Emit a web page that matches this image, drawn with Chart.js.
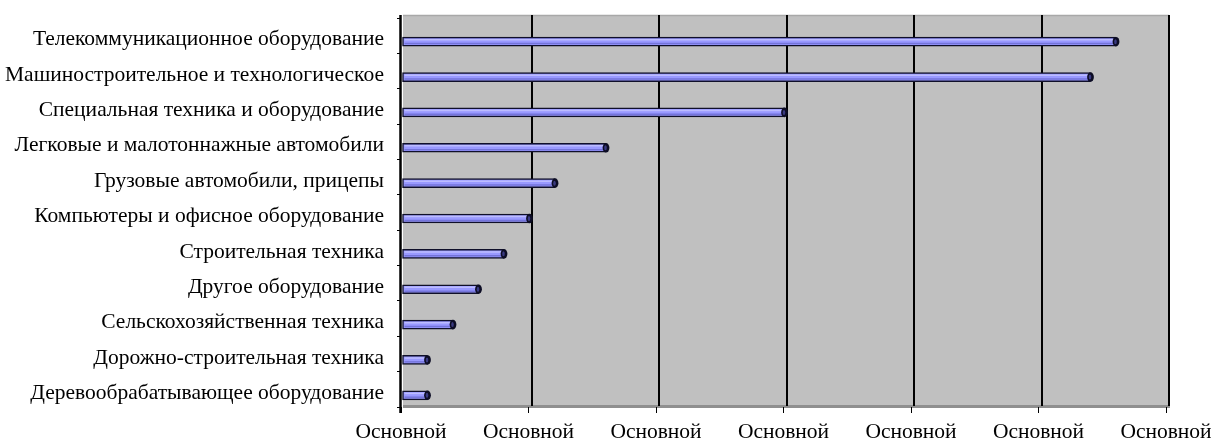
<!DOCTYPE html>
<html>
<head>
<meta charset="utf-8">
<script src="https://cdn.jsdelivr.net/npm/chart.js@4/dist/chart.umd.min.js"></script>
<style>
  html, body { margin: 0; padding: 0; background: #ffffff; }
  canvas { display: block; }
</style>
</head>
<body>
<canvas id="chart" width="1211" height="442"></canvas>
<script>
// Categories, top to bottom
const categories = [
  'Телекоммуникационное оборудование',
  'Машиностроительное и технологическое',
  'Специальная техника и оборудование',
  'Легковые и малотоннажные автомобили',
  'Грузовые автомобили, прицепы',
  'Компьютеры и офисное оборудование',
  'Строительная техника',
  'Другое оборудование',
  'Сельскохозяйственная техника',
  'Дорожно-строительная техника',
  'Деревообрабатывающее оборудование'
];

// Bar values
const values = [28, 27, 15, 8, 6, 5, 4, 3, 2, 1, 1];

// Value axis: range, step and the label shown under each tick
const axisMin = 0;
const axisMax = 30;
const axisStep = 5;
const tickLabel = 'Основной';

const FONT = { family: '"Liberation Serif", "Times New Roman", serif', size: 21.5 };

// Grey back wall with its vertical gridlines, rim and floor edge
const wallPlugin = {
  id: 'wall',
  beforeDraw(chart) {
    const ctx = chart.ctx;
    const area = chart.chartArea;
    const xs = chart.scales.x;
    const L = area.left + 2;
    const R = xs.getPixelForValue(axisMax) + 3;
    const T = area.top - 3;
    const B = area.bottom;
    ctx.save();
    ctx.fillStyle = '#c0c0c0';
    ctx.fillRect(L, T, R - L, B - T);
    // top rim
    ctx.strokeStyle = '#a8a8a8';
    ctx.lineWidth = 1.5;
    ctx.beginPath();
    ctx.moveTo(L, T + 0.5);
    ctx.lineTo(R, T + 0.5);
    ctx.stroke();
    // floor edge
    ctx.fillStyle = '#8f8f8f';
    ctx.fillRect(L, B - 2, R - L + 1, 3);
    // vertical gridlines
    ctx.strokeStyle = '#000000';
    ctx.lineWidth = 2;
    for (let v = axisMin + axisStep; v <= axisMax; v += axisStep) {
      const px = Math.round(xs.getPixelForValue(v) + 3);
      ctx.beginPath();
      ctx.moveTo(px, T);
      ctx.lineTo(px, B - 1);
      ctx.stroke();
    }
    // left wall edge / category axis line
    ctx.lineWidth = 2.5;
    ctx.beginPath();
    ctx.moveTo(area.left - 0.5, T);
    ctx.lineTo(area.left - 0.5, B + 6);
    ctx.stroke();
    ctx.restore();
  }
};

// Bars sit slightly forward of the wall: shift them, then add shading and end caps
const barsPlugin = {
  id: 'bars3d',
  beforeDatasetsDraw(chart) {
    chart.ctx.save();
    chart.ctx.translate(1, 6);
  },
  afterDatasetsDraw(chart) {
    const ctx = chart.ctx;
    chart.getDatasetMeta(0).data.forEach(bar => {
      const h = bar.height;
      const y = bar.y;
      const x0 = bar.base;
      const x1 = bar.x;
      ctx.lineWidth = 1.5;
      ctx.strokeStyle = 'rgba(255,255,255,0.35)';
      ctx.beginPath();
      ctx.moveTo(x0 + 2, y - h / 2 + 2.6);
      ctx.lineTo(x1 - 2, y - h / 2 + 2.6);
      ctx.stroke();
      ctx.strokeStyle = 'rgba(50,50,150,0.35)';
      ctx.beginPath();
      ctx.moveTo(x0 + 2, y + h / 2 - 2.6);
      ctx.lineTo(x1 - 2, y + h / 2 - 2.6);
      ctx.stroke();
      ctx.fillStyle = '#0c0c24';
      ctx.beginPath();
      ctx.ellipse(x1, y, 3.4, h / 2 + 0.3, 0, 0, Math.PI * 2);
      ctx.fill();
      ctx.fillStyle = '#3a3a80';
      ctx.beginPath();
      ctx.ellipse(x1 - 0.5, y, 1.3, h / 2 - 2, 0, 0, Math.PI * 2);
      ctx.fill();
    });
    ctx.restore();
  }
};

new Chart(document.getElementById('chart'), {
  type: 'bar',
  data: {
    labels: categories,
    datasets: [{
      data: values,
      backgroundColor: '#9999ff',
      borderColor: '#10102a',
      borderWidth: 1.5,
      borderSkipped: false,
      barThickness: 9
    }]
  },
  options: {
    indexAxis: 'y',
    responsive: false,
    animation: false,
    devicePixelRatio: 1,
    layout: { padding: { top: 18, right: 45, bottom: 0, left: 0 } },
    plugins: {
      legend: { display: false },
      tooltip: { enabled: false }
    },
    scales: {
      x: {
        min: axisMin,
        max: axisMax,
        ticks: {
          stepSize: axisStep,
          callback: () => tickLabel,
          font: FONT,
          color: '#000000',
          padding: 6,
          maxRotation: 0,
          autoSkip: false
        },
        grid: { drawOnChartArea: false, tickLength: 6, color: '#000000', lineWidth: 1 },
        border: { display: false },
        afterFit(scale) {
          scale.height = 35;
          scale.paddingLeft = 0;
          scale.paddingRight = 0;
        }
      },
      y: {
        ticks: {
          font: FONT,
          color: '#000000',
          padding: 13,
          labelOffset: 4,
          autoSkip: false
        },
        grid: { offset: true, drawOnChartArea: false, tickLength: 4, color: '#000000', lineWidth: 1 },
        border: { display: false },
        afterFit(scale) {
          scale.width = 401;
          scale.paddingTop = 0;
          scale.paddingBottom = 0;
        }
      }
    }
  },
  plugins: [wallPlugin, barsPlugin]
});
</script>
</body>
</html>
